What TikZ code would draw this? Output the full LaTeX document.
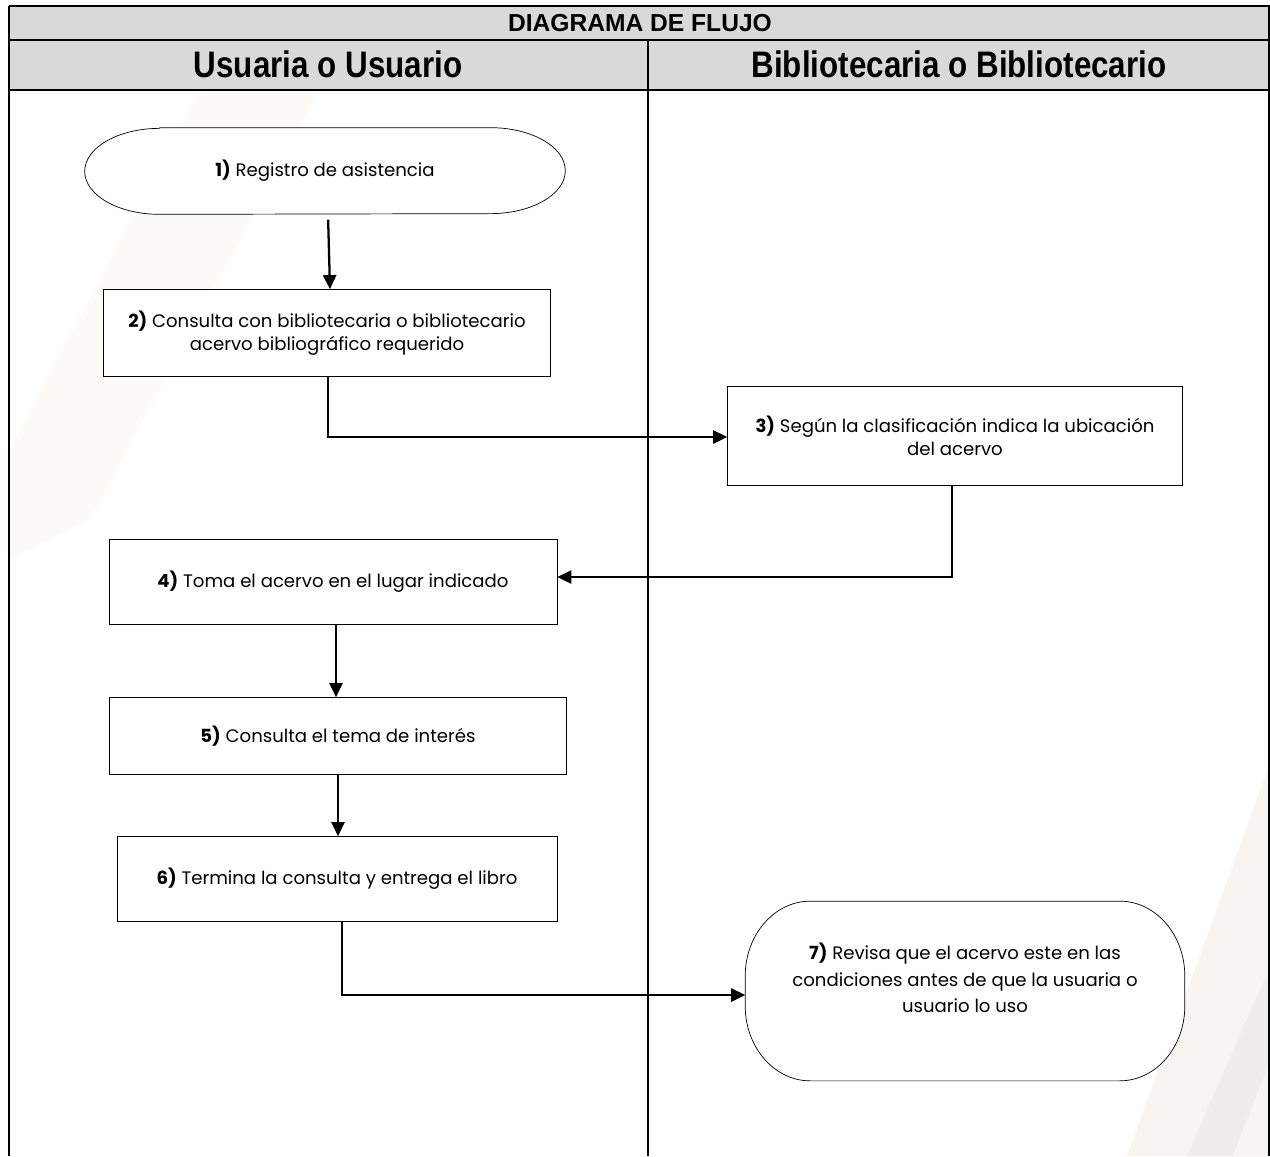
\documentclass[tikz,border=0pt]{standalone}
\usepackage{fontspec}
\setmainfont{Poppins}
\newfontfamily\headfont[FakeStretch=0.85]{Liberation Sans}
\newfontfamily\titlefont{Liberation Sans}
\usetikzlibrary{positioning, arrows.meta}

\definecolor{headgray}{HTML}{D9D9D9}
\definecolor{markgray}{HTML}{F7F4F2}
\definecolor{markdark}{HTML}{F0ECE9}

\begin{document}
\begin{tikzpicture}[
    x=0.02cm, y=-0.02cm,
    stepbox/.style = {rectangle, draw, thin, fill=white, align=center, font=\fontsize{10.3}{13}\selectfont},
    terminal/.style = {rectangle, align=center, font=\fontsize{10.3}{13}\selectfont},
    outline/.style = {draw, thin, fill=white},
    arrow/.style = {-{Triangle[length=8pt, width=7.5pt]}, line width=1.3pt},
    lane/.style = {line width=0.6pt},
    headtxt/.style = {font=\headfont\bfseries\fontsize{21}{24}\selectfont}
]

\useasboundingbox (0,0) rectangle (1270,1156);

% faint background marks
\fill[markgray!35] (200,90) -- (320,90) -- (90,520) -- (9,560) -- (9,450) -- cycle;
\fill[markgray] (1127,1156) -- (1270,763) -- (1270,1156) -- cycle;
\fill[markdark] (1187,1156) -- (1270,967) -- (1270,1156) -- cycle;
\fill[markgray] (1233,1156) -- (1270,1060) -- (1270,1156) -- cycle;

% header and lanes
\fill[headgray] (9,6) rectangle (1270,90);
\draw[lane] (9,6) -- (1270,6);
\draw[lane] (9,40) -- (1270,40);
\draw[line width=1.2pt] (9,90) -- (1270,90);
\draw[lane] (9,6) -- (9,1156);
\draw[lane] (1269,6) -- (1269,1156);
\draw[lane] (648,40) -- (648,1156);

\node[font=\titlefont\bfseries\fontsize{14}{16}\selectfont] (title) at (640,23) {DIAGRAMA DE FLUJO};
\node[headtxt] (laneA) at (328,64) {Usuaria o Usuario};
\node[headtxt] (laneB) at (959,64) {Bibliotecaria o Bibliotecario};

% steps
\node[terminal, minimum width=9.6cm, minimum height=1.72cm] (s1) at (325,171) {};
\draw[outline] ([xshift=1.5cm]s1.north west) -- ([xshift=-1.5cm]s1.north east)
    arc[start angle=90, end angle=-90, x radius=1.5cm, y radius=0.86cm]
    -- ([xshift=1.5cm]s1.south west)
    arc[start angle=270, end angle=90, x radius=1.5cm, y radius=0.86cm] -- cycle;
\node[terminal] at (s1) {\textbf{1)} Registro de asistencia};

\node[stepbox, minimum width=8.94cm, minimum height=1.74cm] (s2) at (327,333) {\textbf{2)} Consulta con bibliotecaria o bibliotecario\\acervo bibliográfico requerido};
\node[stepbox, minimum width=9.1cm, minimum height=1.98cm] (s3) at (955,436) {\textbf{3)} Según la clasificación indica la ubicación\\del acervo};
\node[stepbox, minimum width=8.96cm, minimum height=1.7cm] (s4) at (333,582) {\textbf{4)} Toma el acervo en el lugar indicado};
\node[stepbox, minimum width=9.14cm, minimum height=1.54cm] (s5) at (338,736) {\textbf{5)} Consulta el tema de interés};
\node[stepbox, minimum width=8.8cm, minimum height=1.7cm] (s6) at (337,879) {\textbf{6)} Termina la consulta y entrega el libro};

\node[terminal, minimum width=8.78cm, minimum height=3.58cm] (s7) at (965,991) {};
\draw[outline] ([xshift=1.3cm]s7.north west) -- ([xshift=-1.3cm]s7.north east)
    arc[start angle=90, end angle=0, x radius=1.3cm, y radius=1.5cm]
    -- ([yshift=1.5cm]s7.south east)
    arc[start angle=0, end angle=-90, x radius=1.3cm, y radius=1.5cm]
    -- ([xshift=1.3cm]s7.south west)
    arc[start angle=270, end angle=180, x radius=1.3cm, y radius=1.5cm]
    -- ([yshift=-1.5cm]s7.north west)
    arc[start angle=180, end angle=90, x radius=1.3cm, y radius=1.5cm] -- cycle;
\node[terminal, font=\fontsize{10.3}{15}\selectfont] at (965,978) {\textbf{7)} Revisa que el acervo este en las\\condiciones antes de que la usuaria o\\usuario lo uso};

% connectors
\draw[arrow, shorten <=3pt] ([xshift=0.06cm]s1.south) -- ([xshift=0.06cm]s2.north);
\draw[arrow] ([xshift=0.02cm]s2.south) |- ([yshift=-0.02cm]s3.west);
\draw[arrow] ([xshift=-0.06cm]s3.south) |- ([yshift=0.1cm]s4.east);
\draw[arrow] ([xshift=0.06cm]s4.south) -- ([xshift=0.06cm]s4.south |- s5.north);
\draw[arrow] (s5.south) -- (s5.south |- s6.north);
\draw[arrow] ([xshift=0.1cm]s6.south) |- ([yshift=-0.08cm]s7.west);

\end{tikzpicture}
\end{document}
